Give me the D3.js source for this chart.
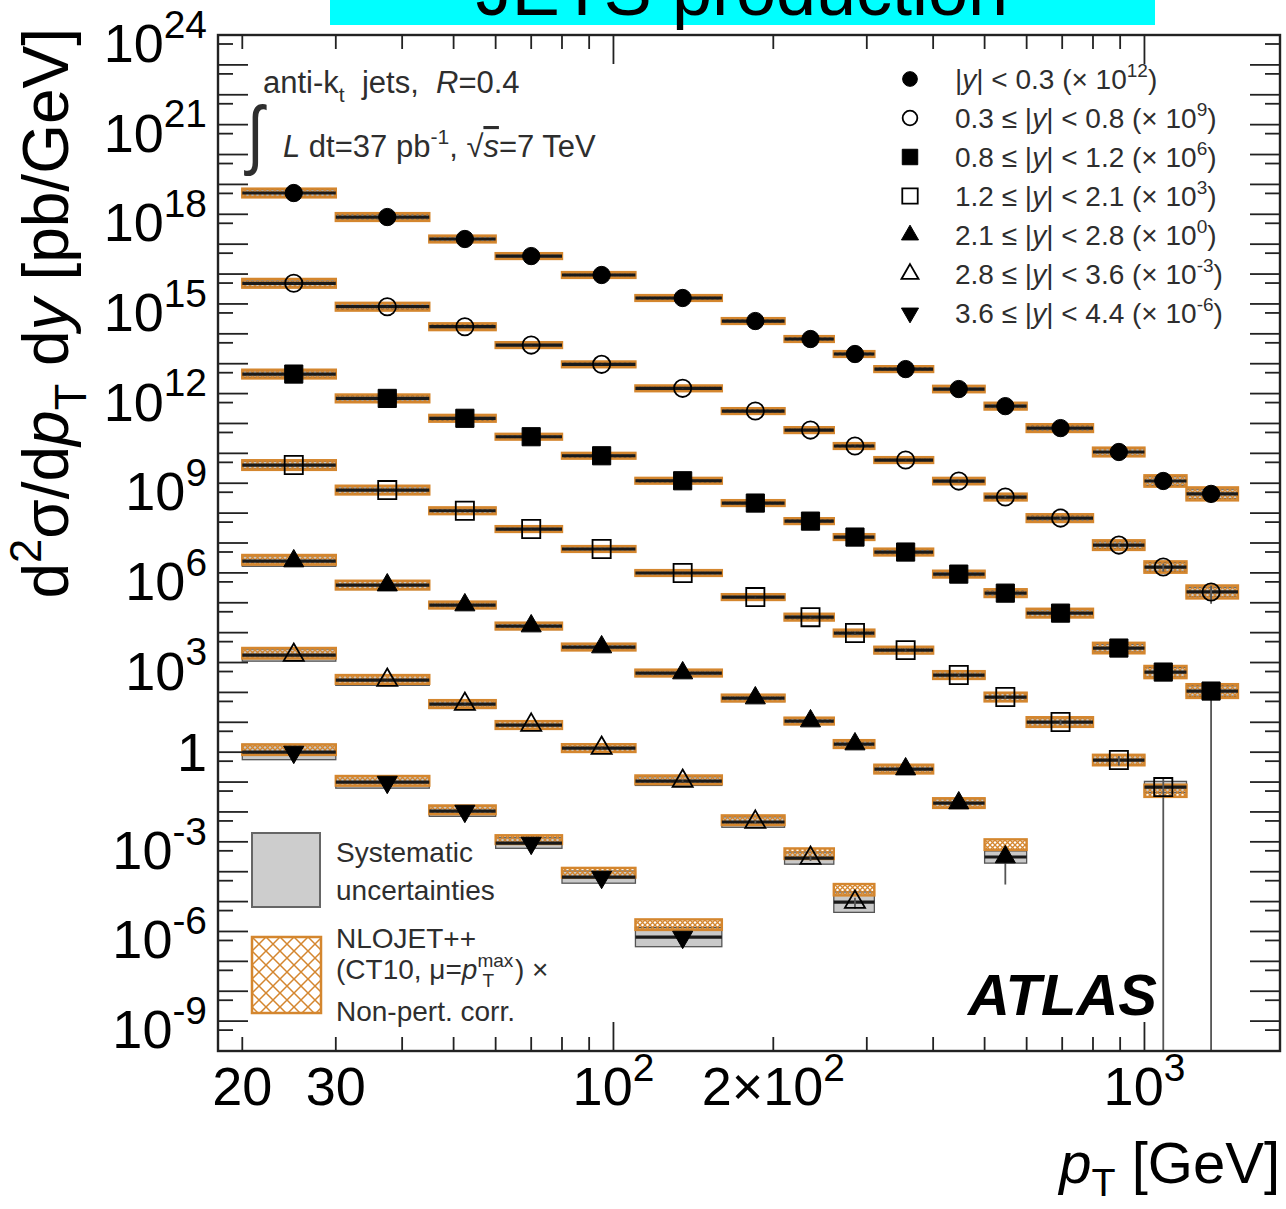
<!DOCTYPE html>
<html><head><meta charset="utf-8">
<script src="https://cdn.jsdelivr.net/npm/d3@7"></script>
<style>
html,body{margin:0;padding:0;background:#fff;}
svg{display:block;font-family:"Liberation Sans",Arial,Helvetica,sans-serif;}
text{white-space:pre;}
</style></head><body>
<svg id="chart" width="1286" height="1209"></svg>
<script>
// ---------------- data ----------------
const binEdges = [20, 30, 45, 60, 80, 110, 160, 210, 260, 310, 400, 500, 600, 800, 1000, 1200, 1500];
const pointPt  = [25, 37.5, 52.5, 70, 95, 135, 185, 235, 285, 355, 447, 547, 695, 895, 1085, 1335];

const rapLow   = [null, 0.3, 0.8, 1.2, 2.1, 2.8, 3.6];
const rapHigh  = [0.3, 0.8, 1.2, 2.1, 2.8, 3.6, 4.4];
const scaleExp = [12, 9, 6, 3, 0, -3, -6];
const markerKinds = ["circle", "circleOpen", "square", "squareOpen", "triangle", "triangleOpen", "triangleDown"];

// measured cross sections d2sigma/dpT dy [pb/GeV] (before the legend scale factor)
const xsec1 = [5.15e6, 8.1e5, 1.49e5, 4.0e4, 9.3e3, 1.58e3, 268, 67, 21.1, 6.6, 1.42, 0.38, 0.070, 0.0111, 1.19e-3, 4.4e-4];
const xsec2 = [4.9e6, 8.07e5, 1.73e5, 4.2e4, 9.5e3, 1.5e3, 260, 60, 17.6, 5.97, 1.18, 0.345, 0.068, 8.5e-3, 1.57e-3, 2.3e-4];
const xsec3 = [4.5e6, 6.9e5, 1.49e5, 3.6e4, 8.3e3, 1.21e3, 217, 54, 15.8, 4.98, 0.91, 0.21, 0.045, 3.05e-3, 4.8e-4, 1.11e-4];
const xsec4 = [4.06e6, 5.9e5, 1.2e5, 2.93e4, 6.3e3, 990, 155, 33, 9.7, 2.6, 0.381, 0.070, 0.0102, 5.45e-4, 6.8e-5];
const xsec5 = [2.49e6, 3.9e5, 8.4e4, 1.66e4, 3.3e3, 445, 64.7, 11.0, 1.87, 0.272, 0.0198, 3.1e-4];
const xsec6 = [1.78e6, 2.59e5, 4.08e4, 8.1e3, 1.37e3, 108, 4.6, 0.286, 9.6e-3];
const xsec7 = [1.01e6, 1.0e5, 1.07e4, 910, 66, 0.65];

// NLO theory / data ratio
const theo1 = [1,1,1,1,1,1,1,1,1,1,1,1,1,1,1,1];
const theo2 = [1,1,1,1,1,1,1,1,1,1,1,1,1,1,1,1];
const theo3 = [1,1,1,1,1,1,1,1,1,1,1,1,1,1,1,1];
const theo4 = [1,1,1,1,1,1,1,1,1,1,1,1,1,1,0.75];
const theo5 = [1.1,1,1,1,1,1,1,1,1,1,1,2.6];
const theo6 = [1.15,1.05,1,1,1,1.1,1.15,1.4,2.6];
const theo7 = [1.2,1.1,1.1,1.3,1.4,2.6];

// theory relative uncertainty
const theoUnc1 = [0.4,0.35,0.3,0.25,0.25,0.25,0.25,0.25,0.25,0.25,0.28,0.3,0.35,0.4,0.55,0.65];
const theoUnc2 = [0.4,0.35,0.3,0.25,0.25,0.25,0.25,0.25,0.25,0.25,0.28,0.3,0.35,0.45,0.55,0.65];
const theoUnc3 = [0.4,0.35,0.3,0.25,0.25,0.25,0.25,0.25,0.25,0.3,0.3,0.35,0.4,0.5,0.6,0.7];
const theoUnc4 = [0.45,0.4,0.3,0.25,0.25,0.25,0.25,0.3,0.3,0.3,0.35,0.4,0.45,0.5,0.6];
const theoUnc5 = [0.45,0.4,0.3,0.3,0.3,0.3,0.3,0.3,0.35,0.4,0.45,0.5];
const theoUnc6 = [0.5,0.4,0.35,0.35,0.35,0.4,0.45,0.5,0.55];
const theoUnc7 = [0.5,0.45,0.4,0.4,0.45,0.5];

// systematic relative uncertainty (grey boxes)
const sysUnc1 = [0.3,0.25,0.2,0.18,0.15,0.15,0.15,0.15,0.15,0.15,0.18,0.2,0.25,0.3,0.4,0.45];
const sysUnc2 = [0.3,0.25,0.2,0.18,0.15,0.15,0.15,0.15,0.15,0.15,0.18,0.2,0.25,0.3,0.4,0.45];
const sysUnc3 = [0.3,0.25,0.2,0.18,0.15,0.15,0.15,0.15,0.18,0.2,0.2,0.25,0.3,0.35,0.45,0.5];
const sysUnc4 = [0.35,0.3,0.25,0.2,0.2,0.2,0.2,0.2,0.25,0.3,0.3,0.35,0.4,0.45,0.55];
const sysUnc5 = [0.5,0.4,0.3,0.3,0.25,0.25,0.3,0.3,0.3,0.35,0.4,0.6];
const sysUnc6 = [0.6,0.5,0.4,0.35,0.35,0.4,0.5,0.6,1.2];
const sysUnc7 = [0.8,0.6,0.5,0.5,0.6,1.1];

// statistical relative uncertainty
const statUnc1 = [0.01,0.01,0.01,0.01,0.01,0.01,0.01,0.01,0.02,0.02,0.03,0.05,0.08,0.15,0.3,0.5];
const statUnc2 = [0.01,0.01,0.01,0.01,0.01,0.01,0.01,0.01,0.02,0.02,0.03,0.05,0.08,0.15,0.3,0.6];
const statUnc3 = [0.01,0.01,0.01,0.01,0.01,0.01,0.01,0.02,0.02,0.03,0.04,0.06,0.1,0.2,0.45,1.0];
const statUnc4 = [0.01,0.01,0.01,0.01,0.01,0.01,0.02,0.02,0.03,0.04,0.06,0.1,0.2,0.35,1.0];
const statUnc5 = [0.01,0.01,0.01,0.01,0.02,0.02,0.03,0.05,0.08,0.15,0.3,0.88];
const statUnc6 = [0.01,0.01,0.02,0.02,0.03,0.05,0.1,0.2,0.4];
const statUnc7 = [0.02,0.02,0.03,0.05,0.1,0.4];

const yLabelExps = [24, 21, 18, 15, 12, 9, 6, 3, 0, -3, -6, -9];
const xLabelVals = [20, 30, 100, 200, 1000];
const xLabelText = ["20", "30", "10^2", "2×10^2", "10^3"];
const xMinorTicks = [20, 30, 40, 50, 60, 70, 80, 90, 200, 300, 400, 500, 600, 700, 800, 900];
const xMajorTicks = [100, 1000];

const series = [
  {xs: xsec1, th: theo1, tu: theoUnc1, sy: sysUnc1, st: statUnc1},
  {xs: xsec2, th: theo2, tu: theoUnc2, sy: sysUnc2, st: statUnc2},
  {xs: xsec3, th: theo3, tu: theoUnc3, sy: sysUnc3, st: statUnc3},
  {xs: xsec4, th: theo4, tu: theoUnc4, sy: sysUnc4, st: statUnc4},
  {xs: xsec5, th: theo5, tu: theoUnc5, sy: sysUnc5, st: statUnc5},
  {xs: xsec6, th: theo6, tu: theoUnc6, sy: sysUnc6, st: statUnc6},
  {xs: xsec7, th: theo7, tu: theoUnc7, sy: sysUnc7, st: statUnc7}
];

// ---------------- drawing ----------------
const X0 = 218, X1 = 1280, Y0 = 35, Y1 = 1051;
const ORANGE = "#d4862e";
const svg = d3.select("#chart");
const x = d3.scaleLog().domain([18, 1800]).range([X0, X1]);
const y = d3.scaleLog().domain([1e-10, 1e24]).range([Y1, Y0]).clamp(true);

function rich(sel, segs, size, supScale = 0.68, supRise = 0.42, subDrop = 0.28) {
  let cur = 0;
  segs.forEach(s => {
    const ts = sel.append("tspan").text(s.t);
    let target = 0, fs = size;
    if (s.k === "sup") { target = -supRise * size; fs = size * supScale; }
    else if (s.k === "sub") { target = subDrop * size; fs = size * 0.68; }
    ts.attr("font-size", fs);
    if (target !== cur) ts.attr("dy", target - cur);
    cur = target;
    if (s.i) ts.attr("font-style", "italic");
    if (s.dx) ts.attr("dx", s.dx);
    if (s.over) ts.style("text-decoration", "overline");
  });
  return sel;
}
function parseSup(str) {
  const p = str.split("^");
  const segs = [{t: p[0]}];
  if (p.length > 1) segs.push({t: p[1], k: "sup"});
  return segs;
}

const defs = svg.append("defs");
defs.append("clipPath").attr("id", "plotclip").append("rect")
  .attr("x", X0).attr("y", Y0).attr("width", X1 - X0).attr("height", Y1 - Y0);
const hb = defs.append("pattern").attr("id", "hatchBand").attr("patternUnits", "userSpaceOnUse")
  .attr("width", 5).attr("height", 5);
hb.append("path").attr("d", "M0,0L5,5M5,0L0,5").attr("stroke", ORANGE).attr("stroke-width", 1.3);
const hl = defs.append("pattern").attr("id", "hatchLeg").attr("patternUnits", "userSpaceOnUse")
  .attr("width", 14).attr("height", 14).attr("x", 252).attr("y", 937);
hl.append("path").attr("d", "M0,0L14,14M14,0L0,14").attr("stroke", ORANGE).attr("stroke-width", 1.5);

// title banner (cut at top edge, as in the source picture)
svg.append("rect").attr("x", 330).attr("y", -80).attr("width", 825).attr("height", 105).attr("fill", "#00ffff");
svg.append("text").attr("x", 742).attr("y", 15).attr("text-anchor", "middle")
  .attr("font-size", 72).attr("fill", "#000").text("JETS production");

const plot = svg.append("g").attr("clip-path", "url(#plotclip)");
const gSys = plot.append("g"), gTh = plot.append("g"), gLine = plot.append("g"),
      gStat = plot.append("g"), gMark = plot.append("g");

function drawMarker(g, kind, cx, cy, sc = 1) {
  const type = kind.startsWith("circle") ? d3.symbolCircle : kind.startsWith("square") ? d3.symbolSquare : d3.symbolTriangle;
  const base = kind.startsWith("circle") ? 235 : kind.startsWith("square") ? 330 : 175;
  const open = kind.endsWith("Open");
  g.append("path")
    .attr("d", d3.symbol().type(type).size(base * sc * sc)())
    .attr("transform", `translate(${cx},${cy})` + (kind === "triangleDown" ? " rotate(180)" : ""))
    .attr("fill", open ? "none" : "#000")
    .attr("stroke", "#000").attr("stroke-width", open ? 1.8 : 1);
}

series.forEach((s, i) => {
  const f = Math.pow(10, scaleExp[i]);
  s.xs.forEach((v0, j) => {
    const v = v0 * f, lo = binEdges[j], hi = binEdges[j + 1];
    const xa = x(lo), xb = x(hi);
    // systematic band
    const syU = v * (1 + s.sy[j]), syD = v / (1 + s.sy[j]);
    gSys.append("rect").attr("x", xa).attr("width", xb - xa)
      .attr("y", y(syU)).attr("height", y(syD) - y(syU))
      .attr("fill", "#c9c9c9").attr("stroke", "#555").attr("stroke-width", 1.3);
    // theory band
    const t = v * s.th[j];
    const tU = t * (1 + s.tu[j]), tD = t / (1 + s.tu[j]);
    gTh.append("rect").attr("x", xa).attr("width", xb - xa)
      .attr("y", y(tU)).attr("height", y(tD) - y(tU))
      .attr("fill", "url(#hatchBand)").attr("stroke", ORANGE).attr("stroke-width", 2.4);
    // horizontal bin line
    gLine.append("line").attr("x1", xa).attr("x2", xb).attr("y1", y(v)).attr("y2", y(v))
      .attr("stroke", "#1a1a1a").attr("stroke-width", 3.2);
    // statistical error
    const stU = v * (1 + s.st[j]), stD = s.st[j] >= 1 ? 1e-10 : v * (1 - s.st[j]);
    gStat.append("line").attr("x1", x(pointPt[j])).attr("x2", x(pointPt[j]))
      .attr("y1", y(stU)).attr("y2", y(stD)).attr("stroke", "#555").attr("stroke-width", 1.8);
    drawMarker(gMark, markerKinds[i], x(pointPt[j]), y(v));
  });
});

// frame
svg.append("rect").attr("x", X0).attr("y", Y0).attr("width", X1 - X0).attr("height", Y1 - Y0)
  .attr("fill", "none").attr("stroke", "#222").attr("stroke-width", 2.4);

// ticks
const gt = svg.append("g").attr("stroke", "#222").attr("stroke-width", 1.8);
xMinorTicks.concat(xMajorTicks).forEach(v => {
  const L = xMajorTicks.includes(v) ? 29 : 14;
  gt.append("line").attr("x1", x(v)).attr("x2", x(v)).attr("y1", Y1).attr("y2", Y1 - L);
  gt.append("line").attr("x1", x(v)).attr("x2", x(v)).attr("y1", Y0).attr("y2", Y0 + L);
});
d3.range(-10, 25).forEach(n => {
  const yy = y(Math.pow(10, n));
  gt.append("line").attr("x1", X0).attr("x2", X0 + 30).attr("y1", yy).attr("y2", yy);
  gt.append("line").attr("x1", X1).attr("x2", X1 - 30).attr("y1", yy).attr("y2", yy);
  if (n < 24) {
    const ym = y(5 * Math.pow(10, n));
    gt.append("line").attr("x1", X0).attr("x2", X0 + 15).attr("y1", ym).attr("y2", ym);
    gt.append("line").attr("x1", X1).attr("x2", X1 - 15).attr("y1", ym).attr("y2", ym);
  }
});

// y tick labels
const LF = 54;
yLabelExps.forEach(e => {
  const yy = y(Math.pow(10, e));
  const t = svg.append("text").attr("x", 207).attr("text-anchor", "end").attr("fill", "#000");
  if (e === 0) { t.attr("y", yy + 19); rich(t, [{t: "1"}], LF); }
  else { t.attr("y", yy + 27); rich(t, [{t: "10"}, {t: String(e), k: "sup"}], LF, 0.72, 0.45); }
});
// x tick labels
xLabelVals.forEach((v, k) => {
  const t = svg.append("text").attr("x", x(v)).attr("y", 1105).attr("text-anchor", "middle").attr("fill", "#000");
  rich(t, parseSup(xLabelText[k]), LF, 0.72, 0.45);
});

// axis titles
const yt = svg.append("text").attr("transform", "translate(68,28) rotate(-90)")
  .attr("text-anchor", "end").attr("fill", "#000");
rich(yt, [{t: "d"}, {t: "2", k: "sup"}, {t: "σ/d"}, {t: "p", i: 1}, {t: "T", k: "sub"},
          {t: " d"}, {t: "y", i: 1}, {t: " [pb/GeV]"}], 64);
const xt = svg.append("text").attr("x", 1280).attr("y", 1183).attr("text-anchor", "end").attr("fill", "#000");
rich(xt, [{t: "p", i: 1}, {t: "T", k: "sub"}, {t: " [GeV]"}], 58, 0.68, 0.42, 0.22);

// top-left annotation
const TC = "#2e2e2e";
rich(svg.append("text").attr("x", 263).attr("y", 93).attr("fill", TC),
  [{t: "anti-k"}, {t: "t", k: "sub"}, {t: "  jets,  "}, {t: "R", i: 1}, {t: "=0.4"}], 31);
svg.append("text").attr("x", 247).attr("y", 160).attr("font-size", 76).attr("fill", TC)
  .attr("transform", "translate(247,160) scale(0.8,1) translate(-247,-160)").text("∫");
rich(svg.append("text").attr("x", 283).attr("y", 157).attr("fill", TC),
  [{t: "L", i: 1}, {t: " dt=37 pb"}, {t: "-1", k: "sup"}, {t: ", √"}, {t: "s", i: 1, over: 1}, {t: "=7 TeV"}], 31);

// rapidity legend
const legY0 = 89, legDY = 39;
series.forEach((s, i) => {
  const by = legY0 + i * legDY;
  drawMarker(svg, markerKinds[i], 910, by - 10, 0.85);
  const segs = [];
  if (rapLow[i] === null) segs.push({t: "|"});
  else segs.push({t: rapLow[i].toFixed(1) + " ≤ |"});
  segs.push({t: "y", i: 1});
  segs.push({t: "| < " + rapHigh[i].toFixed(1) + " (× 10"});
  segs.push({t: String(scaleExp[i]), k: "sup"});
  segs.push({t: ")"});
  rich(svg.append("text").attr("x", 955).attr("y", by).attr("fill", TC), segs, 28);
});

// uncertainty legend
svg.append("rect").attr("x", 252).attr("y", 833).attr("width", 68).attr("height", 74)
  .attr("fill", "#cdcdcd").attr("stroke", "#666").attr("stroke-width", 2);
svg.append("rect").attr("x", 252).attr("y", 937).attr("width", 69).attr("height", 76)
  .attr("fill", "url(#hatchLeg)").attr("stroke", ORANGE).attr("stroke-width", 2.5);
const LG = 28;
rich(svg.append("text").attr("x", 336).attr("y", 862).attr("fill", TC), [{t: "Systematic"}], LG);
rich(svg.append("text").attr("x", 336).attr("y", 900).attr("fill", TC), [{t: "uncertainties"}], LG);
rich(svg.append("text").attr("x", 336).attr("y", 948).attr("fill", TC), [{t: "NLOJET++"}], LG);
rich(svg.append("text").attr("x", 336).attr("y", 979).attr("fill", TC),
  [{t: "(CT10, μ="}, {t: "p", i: 1}, {t: "max", k: "sup"}, {t: "T", k: "sub", dx: -31}, {t: ") ×", dx: 21}], LG);
rich(svg.append("text").attr("x", 336).attr("y", 1021).attr("fill", TC), [{t: "Non-pert. corr."}], LG);

// ATLAS label
svg.append("text").attr("x", 1157).attr("y", 1015).attr("text-anchor", "end")
  .attr("font-size", 58).attr("font-weight", "bold").attr("font-style", "italic")
  .attr("fill", "#000").text("ATLAS");
</script>
</body></html>
